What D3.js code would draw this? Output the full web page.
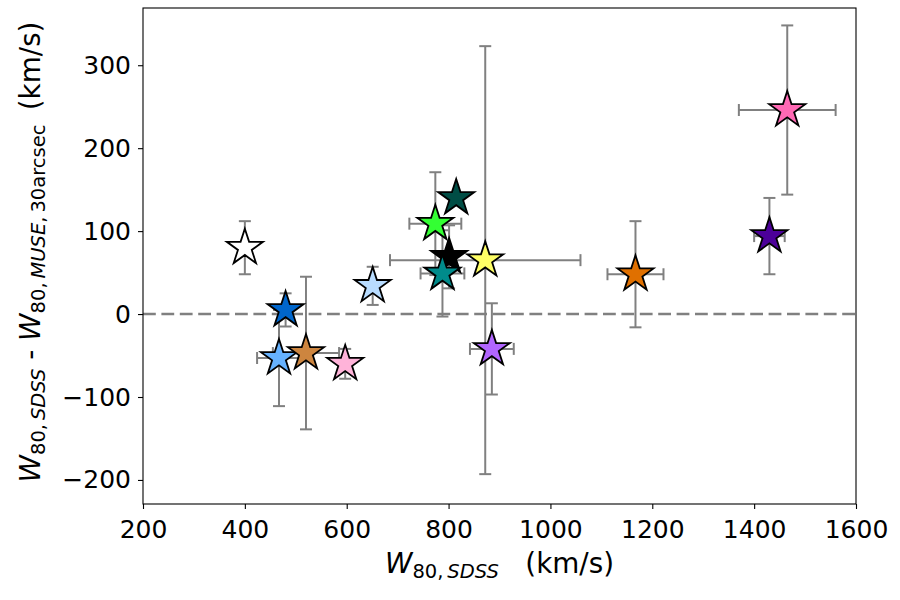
<!DOCTYPE html>
<html>
<head>
<meta charset="utf-8">
<script src="https://cdn.jsdelivr.net/npm/d3@7"></script>
<style>
  html, body { margin: 0; padding: 0; background: #fff; }
  svg { display: block; font-family: "DejaVu Sans", sans-serif; }
  .axis text { font-size: 25px; fill: #000; font-family: "DejaVu Sans", sans-serif; }
  .axis path { display: none; }
  .axis line { stroke: #000; stroke-width: 1.1; }
</style>
</head>
<body>
<svg id="chart" width="900" height="600"></svg>
<script>
// ─── Data ─────────────────────────────────────────────────────────────────────

const w80Sdss = [400, 480, 467, 520, 597, 651, 815, 774, 801, 788, 872, 885, 1167, 1465, 1430];
const w80Diff = [80, 5, -53, -47, -60, 34, 140, 109, 69, 49, 65, -42, 48, 246, 94];
const xErr    = [0, 0, 43, 65, 10, 0, 0, 51, 0, 43, 187, 43, 55, 95, 30];
const yErr    = [32, 20, 58, 92, 18, 23, 0, 62, 38, 52, 258, 55, 64, 102, 46];

const xTicks = [200, 400, 600, 800, 1000, 1200, 1400, 1600];
const yTicks = [-200, -100, 0, 100, 200, 300];

// marker fill colours (style, kept apart from the values)
const starColors = ["#ffffff", "#0066cc", "#66b2ff", "#cd853f", "#ffb3d9", "#b8dcff",
  "#004d45", "#33ff33", "#000000", "#008b8b", "#ffff66", "#b266ff", "#e07000",
  "#ff69b4", "#4c0099"];

// ─── Layout ───────────────────────────────────────────────────────────────────

const margin = { top: 8, right: 44, bottom: 96, left: 143 };
const totalWidth = 900, totalHeight = 600;
const width = totalWidth - margin.left - margin.right;
const height = totalHeight - margin.top - margin.bottom;

const svg = d3.select("#chart");
const g = svg.append("g").attr("transform", `translate(${margin.left},${margin.top})`);

const x = d3.scaleLinear().domain([200, 1600]).range([0, width]);
const y = d3.scaleLinear().domain([-229, 369]).range([height, 0]);

const points = w80Sdss.map((v, i) => ({
  x: v, y: w80Diff[i], xe: xErr[i], ye: yErr[i], color: starColors[i]
}));

// ─── Axes ─────────────────────────────────────────────────────────────────────

g.append("g")
  .attr("class", "axis")
  .attr("transform", `translate(0,${height})`)
  .call(d3.axisBottom(x).tickValues(xTicks).tickSize(5).tickPadding(11).tickFormat(d3.format("d")));

g.append("g")
  .attr("class", "axis")
  .call(d3.axisLeft(y).tickValues(yTicks).tickSize(5).tickPadding(7)
    .tickFormat(d => d < 0 ? "\u2212" + Math.abs(d) : d));

// zero reference line
g.append("line")
  .attr("x1", 0).attr("x2", width)
  .attr("y1", y(0)).attr("y2", y(0))
  .attr("stroke", "#808080")
  .attr("stroke-width", 2.5)
  .attr("stroke-dasharray", "12.8,5.6");

// ─── Error bars ───────────────────────────────────────────────────────────────

const cap = 6;
const eb = g.append("g").attr("stroke", "#808080").attr("stroke-width", 2).attr("fill", "none");

points.forEach(d => {
  const cx = x(d.x), cy = y(d.y);
  if (d.xe > 0) {
    const x0 = x(d.x - d.xe), x1 = x(d.x + d.xe);
    eb.append("line").attr("x1", x0).attr("x2", x1).attr("y1", cy).attr("y2", cy);
    eb.append("line").attr("x1", x0).attr("x2", x0).attr("y1", cy - cap).attr("y2", cy + cap);
    eb.append("line").attr("x1", x1).attr("x2", x1).attr("y1", cy - cap).attr("y2", cy + cap);
  }
  if (d.ye > 0) {
    const y0 = y(d.y - d.ye), y1 = y(d.y + d.ye);
    eb.append("line").attr("x1", cx).attr("x2", cx).attr("y1", y0).attr("y2", y1);
    eb.append("line").attr("x1", cx - cap).attr("x2", cx + cap).attr("y1", y0).attr("y2", y0);
    eb.append("line").attr("x1", cx - cap).attr("x2", cx + cap).attr("y1", y1).attr("y2", y1);
  }
});

// ─── Stars ────────────────────────────────────────────────────────────────────

const star = d3.symbol(d3.symbolStar, 405);

g.selectAll(".star")
  .data(points)
  .join("path")
  .attr("class", "star")
  .attr("d", star)
  .attr("transform", d => `translate(${x(d.x)},${y(d.y)})`)
  .attr("fill", d => d.color)
  .attr("stroke", "#000")
  .attr("stroke-width", 1.8)
  .attr("stroke-linejoin", "miter");

// frame
g.append("rect")
  .attr("width", width).attr("height", height)
  .attr("fill", "none").attr("stroke", "#000").attr("stroke-width", 1.1);

// ─── Labels ───────────────────────────────────────────────────────────────────

const labelSize = "27.8px", subSize = "19.5px", subShift = 5;

function subscriptLabel(sel, parts) {
  parts.forEach(p => {
    const t = sel.append("tspan").text(p.text);
    if (p.italic) t.attr("font-style", "italic");
    if (p.sub) t.attr("font-size", subSize);
    if (p.dy) t.attr("dy", p.dy);
    if (p.pre) t.attr("xml:space", "preserve");
  });
}

const xl = svg.append("text")
  .attr("x", margin.left + width / 2)
  .attr("y", 573)
  .attr("text-anchor", "middle")
  .attr("font-size", labelSize)
  .attr("fill", "#000");
subscriptLabel(xl, [
  { text: "W", italic: true },
  { text: "80,\u2009", sub: true, dy: subShift },
  { text: "SDSS", sub: true, italic: true },
  { text: "   (km/s)", dy: -subShift, pre: true }
]);

const yl = svg.append("text")
  .attr("transform", `translate(40,${margin.top + height / 2 - 4}) rotate(-90)`)
  .attr("text-anchor", "middle")
  .attr("font-size", labelSize)
  .attr("fill", "#000");
subscriptLabel(yl, [
  { text: "W", italic: true },
  { text: "80,\u2009", sub: true, dy: subShift },
  { text: "SDSS", sub: true, italic: true },
  { text: " - ", dy: -subShift, pre: true },
  { text: "W", italic: true },
  { text: "80,\u2009", sub: true, dy: subShift },
  { text: "MUSE", sub: true, italic: true },
  { text: ",\u200930arcsec", sub: true },
  { text: " \u2009(km/s)", dy: -subShift, pre: true }
]);
</script>
</body>
</html>
